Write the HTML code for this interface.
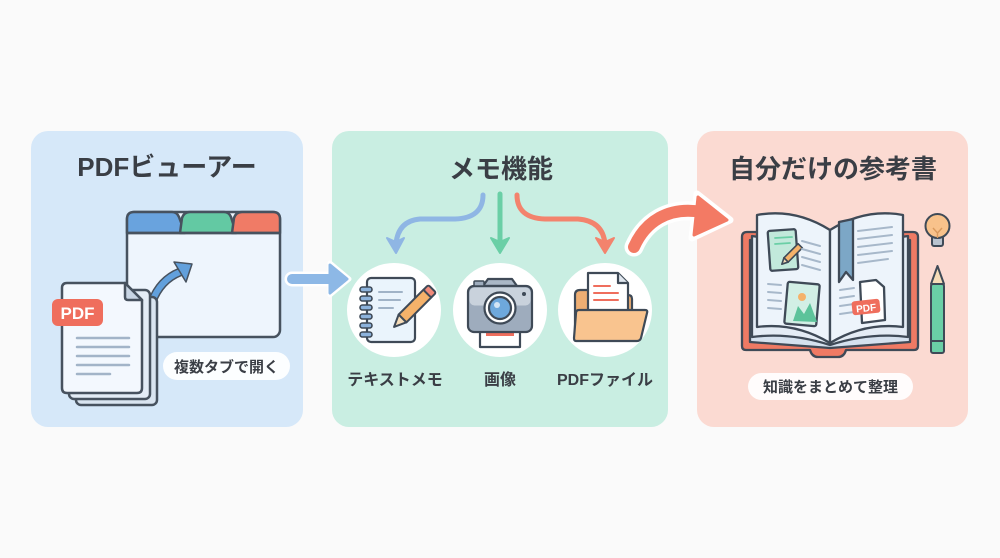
<!DOCTYPE html>
<html><head><meta charset="utf-8"><style>
html,body{margin:0;padding:0;background:#fafafa;}
svg{display:block;}
text{font-family:"Liberation Sans","Noto Sans CJK JP",sans-serif;font-weight:bold;fill:#3a3e45;}
</style></head><body>
<svg width="1000" height="558" viewBox="0 0 1000 558" xmlns="http://www.w3.org/2000/svg">
<rect width="1000" height="558" fill="#fafafa"/>
<!-- panels -->
<rect x="31" y="131" width="272" height="296" rx="17" fill="#d6e8f9"/>
<rect x="332" y="131" width="336" height="296" rx="17" fill="#c9eee2"/>
<rect x="697" y="131" width="271" height="296" rx="17" fill="#fbdad2"/>

<!-- titles -->
<text x="167" y="176" font-size="26" text-anchor="middle">PDFビューアー</text>
<text x="501" y="178" font-size="26" text-anchor="middle">メモ機能</text>
<text x="833" y="178" font-size="26" text-anchor="middle">自分だけの参考書</text>

<!-- ========== Panel 1 ========== -->
<g stroke="#47525f" stroke-width="2.5" stroke-linejoin="round">
  <rect x="127" y="212" width="153" height="125" rx="7" fill="#eef5fd"/>
  <path d="M127,233 L127,219 Q127,212 134,212 L172,212 Q177,212 179,217 L185,233 Z" fill="#69a3de"/>
  <path d="M180,233 L182,218 Q184,212 190,212 L224,212 Q229,212 231,217 L236,233 Z" fill="#63c9a3"/>
  <path d="M232,233 L234,218 Q236,212 242,212 L273,212 Q280,212 280,219 L280,233 Z" fill="#f07b66"/>
  <line x1="127" y1="233" x2="280" y2="233"/>
</g>
<path d="M152,302 Q160,280 180,272" fill="none" stroke="#47525f" stroke-width="9" stroke-linecap="round"/>
<path d="M152,302 Q160,280 180,272" fill="none" stroke="#62a0dc" stroke-width="6" stroke-linecap="round"/>
<polygon points="174,262 192,264 186,282" fill="#62a0dc" stroke="#47525f" stroke-width="1.5" stroke-linejoin="round"/>

<g stroke="#47525f" stroke-width="2.5" stroke-linejoin="round">
  <rect x="76" y="297" width="81" height="108" rx="5" fill="#d9e4f0"/>
  <rect x="69" y="290" width="81" height="109" rx="5" fill="#e3ecf6"/>
  <path d="M67,283 L125,283 L142,300 L142,388 Q142,393 137,393 L67,393 Q62,393 62,388 L62,288 Q62,283 67,283 Z" fill="#f3f8fe"/>
  <path d="M125,283 L125,297 Q125,300 128,300 L142,300 Z" fill="#c8d5e4"/>
</g>
<g stroke="#a2b4c8" stroke-width="2.5" stroke-linecap="round">
  <line x1="77" y1="338" x2="129" y2="338"/>
  <line x1="77" y1="347" x2="129" y2="347"/>
  <line x1="77" y1="356" x2="129" y2="356"/>
  <line x1="77" y1="365" x2="129" y2="365"/>
  <line x1="77" y1="374" x2="110" y2="374"/>
</g>
<rect x="52" y="299" width="51" height="27" rx="6" fill="#ef6e5d"/>
<text x="77.5" y="319" font-size="17" text-anchor="middle" style="fill:#fff">PDF</text>

<rect x="163" y="352" width="127" height="28" rx="14" fill="#ffffff" opacity="0.92"/>
<text x="226.5" y="372" font-size="15" text-anchor="middle">複数タブで開く</text>

<!-- arrow panel1 -> panel2 -->
<line x1="292" y1="279" x2="334" y2="279" stroke="#fff" stroke-width="15" stroke-linecap="round"/>
<polygon points="330,263 349,279 330,295" fill="#fff" stroke="#fff" stroke-width="5" stroke-linejoin="round"/>
<line x1="292" y1="279" x2="334" y2="279" stroke="#8db8e6" stroke-width="10" stroke-linecap="round"/>
<polygon points="330,265 347,279 330,293" fill="#8db8e6" stroke="#8db8e6" stroke-width="3" stroke-linejoin="round"/>

<!-- ========== Panel 2 ========== -->
<path d="M483,195 Q483,218 455,219 L420,219 Q398,221 396,244" fill="none" stroke="#8fb6e4" stroke-width="5" stroke-linecap="round"/>
<polygon points="387,238 396,253 404,238 396,242" fill="#8fb6e4" stroke="#8fb6e4" stroke-width="2" stroke-linejoin="round"/>
<line x1="500" y1="194" x2="500" y2="244" stroke="#6acfa6" stroke-width="5" stroke-linecap="round"/>
<polygon points="491,238 500,253 509,238 500,242" fill="#6acfa6" stroke="#6acfa6" stroke-width="2" stroke-linejoin="round"/>
<path d="M517,195 Q517,218 545,219 L578,219 Q603,221 605,244" fill="none" stroke="#f3836d" stroke-width="5" stroke-linecap="round"/>
<polygon points="596,238 605,253 614,238 605,242" fill="#f3836d" stroke="#f3836d" stroke-width="2" stroke-linejoin="round"/>

<circle cx="394" cy="310" r="47" fill="#fff"/>
<circle cx="500" cy="310" r="47" fill="#fff"/>
<circle cx="605" cy="310" r="47" fill="#fff"/>

<!-- notebook -->
<g stroke="#3f4a57" stroke-width="2.2" stroke-linejoin="round">
  <rect x="367" y="278" width="48" height="64" rx="4" fill="#eaf4fc"/>
  <g fill="#8db3dc" stroke-width="1.6">
    <rect x="360" y="287" width="12" height="5" rx="2.5"/>
    <rect x="360" y="296" width="12" height="5" rx="2.5"/>
    <rect x="360" y="305" width="12" height="5" rx="2.5"/>
    <rect x="360" y="314" width="12" height="5" rx="2.5"/>
    <rect x="360" y="323" width="12" height="5" rx="2.5"/>
    <rect x="360" y="332" width="12" height="5" rx="2.5"/>
  </g>
</g>
<g stroke="#a0b3c7" stroke-width="2" stroke-linecap="round">
  <line x1="379" y1="292" x2="402" y2="292"/>
  <line x1="379" y1="300" x2="400" y2="300"/>
  <line x1="379" y1="308" x2="393" y2="308"/>
</g>
<g transform="translate(411,310) rotate(45)" stroke="#3f4a57" stroke-width="2" stroke-linejoin="round">
  <rect x="-5.5" y="-24" width="11" height="36" fill="#f5b26a"/>
  <rect x="-5.5" y="-30" width="11" height="7" rx="2" fill="#f08a7a"/>
  <path d="M-5.5,12 L0,24 L5.5,12 Z" fill="#f6dcb8"/>
</g>

<!-- camera -->
<g stroke="#3f4a57" stroke-width="2.2" stroke-linejoin="round">
  <rect x="480" y="324" width="40" height="23" fill="#fff"/>
  <rect x="486" y="327" width="28" height="9" fill="#ef6e5d" stroke="none"/>
  <path d="M483,286 L488,279 L512,279 L517,286 Z" fill="#aab7c6"/>
  <rect x="468" y="286" width="64" height="46" rx="6" fill="#9eacbd"/>
  <rect x="469.5" y="287.5" width="61" height="18" rx="5" fill="#c9d2dc" stroke="none"/>
  <rect x="474" y="281" width="10" height="5" rx="1" fill="#9eacbd" stroke-width="1.5"/>
  <circle cx="500" cy="308" r="15.5" fill="#fff"/>
  <circle cx="500" cy="308" r="11" fill="#6ea8dc"/>
  <circle cx="524" cy="294" r="2" fill="#3f4a57" stroke="none"/>
</g>
<circle cx="497" cy="305" r="3" fill="#fff" opacity="0.7"/>

<!-- folder -->
<g stroke="#3f4a57" stroke-width="2.2" stroke-linejoin="round">
  <path d="M575,295 Q575,290 580,290 L592,290 L596,295 L628,295 Q632,295 632,299 L632,340 L575,340 Z" fill="#eeae73"/>
  <path d="M588,273 L618,273 L628,283 L628,318 L588,318 Z" fill="#fff"/>
  <path d="M618,273 L618,283 L628,283" fill="#dfe6ee"/>
  <path d="M579,310 L645,310 Q648,310 647,313 L641,338 Q640,341 637,341 L576,341 Q574,341 574,338 L576,313 Q576,310 579,310 Z" fill="#f9c48f"/>
</g>
<g stroke="#ef6e5d" stroke-width="2" stroke-linecap="round">
  <line x1="594" y1="286" x2="610" y2="286"/>
  <line x1="594" y1="293" x2="618" y2="293"/>
  <line x1="594" y1="300" x2="618" y2="300"/>
</g>

<text x="395" y="385" font-size="16" text-anchor="middle">テキストメモ</text>
<text x="500" y="385" font-size="16" text-anchor="middle">画像</text>
<text x="605" y="385" font-size="16" text-anchor="middle">PDFファイル</text>

<!-- big red arrow -->
<path d="M634,247 C645,222 668,206 702,212" fill="none" stroke="#fff" stroke-width="19" stroke-linecap="round"/>
<polygon points="697,194 730,220 692,238" fill="#fff" stroke="#fff" stroke-width="7" stroke-linejoin="round"/>
<path d="M634,247 C645,222 668,206 702,212" fill="none" stroke="#f37a64" stroke-width="12" stroke-linecap="round"/>
<polygon points="698,197 727,220 694,235" fill="#f37a64" stroke="#f37a64" stroke-width="3" stroke-linejoin="round"/>

<!-- ========== Panel 3 ========== -->
<g stroke="#3f4a57" stroke-width="2.3" stroke-linejoin="round">
  <path d="M747,232 L913,232 Q918,232 918,237 L918,346 Q918,350 914,350 L846,350 Q844,357 838,357 L818,357 Q812,357 810,350 L746,350 Q742,350 742,346 L742,237 Q742,232 747,232 Z" fill="#ef7a64"/>
  <path d="M750,240 L830,252 L910,240 L910,342 L830,348 L750,342 Z" fill="#d5e1ee"/>
  <path d="M752,236 L830,248 L908,236 L908,337 Q870,332 830,345 Q790,332 752,337 Z" fill="#e4ecf5"/>
  <path d="M757,215 Q795,208 830,230 L830,343 Q795,322 757,327 Z" fill="#edf4fb"/>
  <path d="M903,215 Q865,208 830,230 L830,343 Q865,322 903,327 Z" fill="#edf4fb"/>
  <rect x="769" y="230" width="28" height="40" rx="2" fill="#c2e9db" transform="rotate(-4 783 250)"/>
  <rect x="786" y="283" width="32" height="42" rx="2" fill="#d2efe5" transform="rotate(5 802 304)"/>
  <path d="M839,222 L853,219 L853,280 L846,272 L839,282 Z" fill="#7ca7c6"/>
  <path d="M860,282 L876,280 L884,287 L885,320 L862,323 Z" fill="#fff"/>
</g>
<path d="M793,321 L798,306 L804,314 L810,303 L817,322 Z" fill="#5cc39a"/>
<circle cx="802" cy="297" r="4" fill="#f5b26a"/>
<g stroke="#6acfa6" stroke-width="1.8" stroke-linecap="round">
  <line x1="775" y1="238" x2="792" y2="237"/>
  <line x1="775" y1="244" x2="790" y2="243"/>
</g>
<g transform="translate(791,255) rotate(45)" stroke="#3f4a57" stroke-width="1.6" stroke-linejoin="round">
  <rect x="-3" y="-13" width="6" height="20" fill="#f5b26a"/>
  <path d="M-3,7 L0,13 L3,7 Z" fill="#f6dcb8"/>
</g>
<g stroke="#a7b8ca" stroke-width="2" stroke-linecap="round">
  <line x1="802" y1="241" x2="820" y2="246"/>
  <line x1="802" y1="249" x2="820" y2="254"/>
  <line x1="802" y1="257" x2="820" y2="262"/>
  <line x1="802" y1="265" x2="820" y2="270"/>
  <line x1="768" y1="284" x2="781" y2="285"/>
  <line x1="768" y1="292" x2="781" y2="293"/>
  <line x1="768" y1="300" x2="781" y2="301"/>
  <line x1="768" y1="308" x2="781" y2="309"/>
  <line x1="858" y1="231" x2="892" y2="227"/>
  <line x1="858" y1="239" x2="892" y2="235"/>
  <line x1="858" y1="247" x2="892" y2="243"/>
  <line x1="858" y1="255" x2="892" y2="251"/>
  <line x1="858" y1="263" x2="888" y2="259"/>
  <line x1="840" y1="290" x2="854" y2="288"/>
  <line x1="840" y1="298" x2="854" y2="296"/>
  <line x1="840" y1="306" x2="854" y2="304"/>
  <line x1="840" y1="314" x2="854" y2="312"/>
</g>
<rect x="852" y="300" width="28" height="14" rx="3" fill="#ef6e5d" transform="rotate(-6 866 307)"/>
<text x="866" y="311.5" font-size="10" text-anchor="middle" transform="rotate(-6 866 307)" style="fill:#fff">PDF</text>

<g stroke="#3f4a57" stroke-width="2" stroke-linejoin="round">
  <rect x="932" y="236" width="11" height="10" rx="2" fill="#b9c3cf"/>
  <circle cx="937.5" cy="226" r="12" fill="#f8c28b"/>
  <path d="M933,228 L937.5,233 L942,228 M937.5,233 L937.5,238" fill="none" stroke="#d99a5e" stroke-width="1.4"/>
</g>
<g stroke="#3f4a57" stroke-width="2" stroke-linejoin="round">
  <path d="M931,284 L937.5,266 L944,284 Z" fill="#f6dcb8"/>
  <rect x="931" y="284" width="13" height="69" rx="2" fill="#6acfa6"/>
  <line x1="931" y1="341" x2="944" y2="341"/>
</g>

<rect x="748" y="373" width="165" height="27" rx="13.5" fill="#fff" opacity="0.92"/>
<text x="830.5" y="392" font-size="15" text-anchor="middle">知識をまとめて整理</text>
</svg>
</body></html>
